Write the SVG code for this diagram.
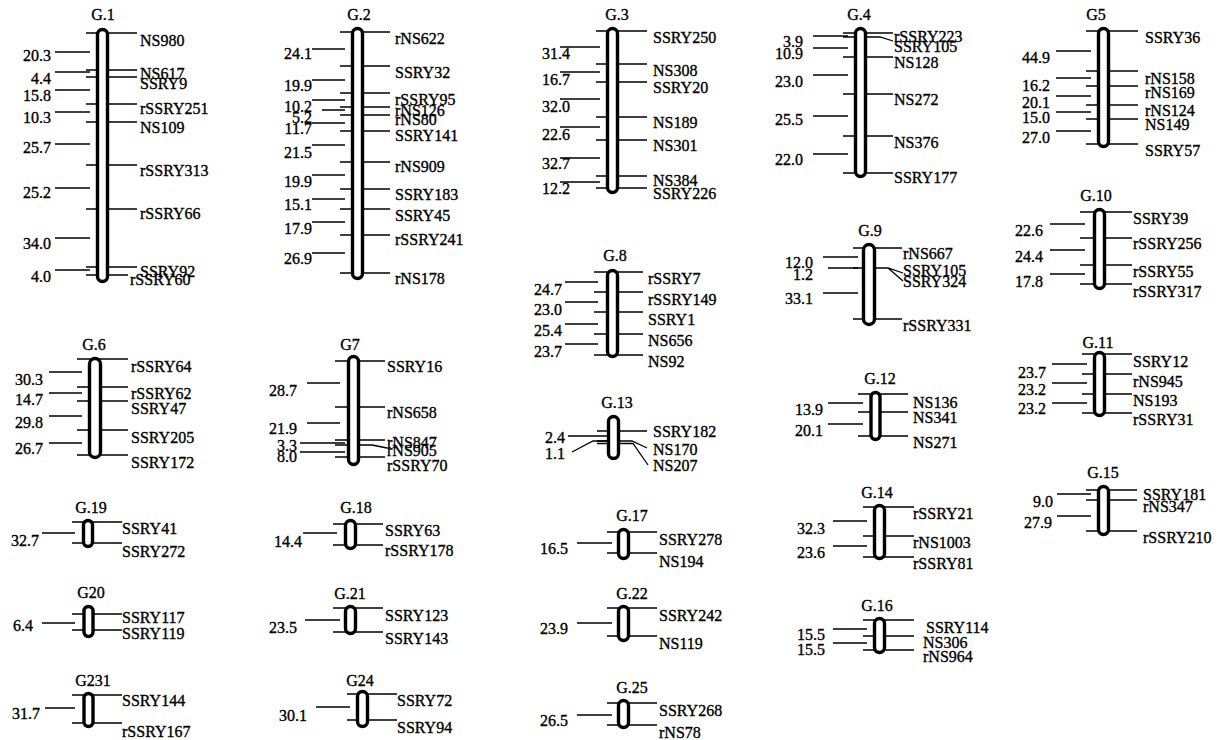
<svg xmlns="http://www.w3.org/2000/svg" width="1228" height="740" viewBox="0 0 1228 740">
<style>
.bg{fill:#fff}
.c{fill:#fff;stroke:#000;stroke-width:3.4}
.m{fill:none;stroke:#000;stroke-width:1.3}
text{font-family:"Liberation Serif","Times New Roman",serif;font-size:16px;fill:#000;stroke:#000;stroke-width:0.35;dominant-baseline:central}
.t{text-anchor:middle}
.d{text-anchor:end}
</style>
<rect class="bg" x="0" y="0" width="1228" height="740"/>

<g id="G1">
<text class="t" x="103" y="14">G.1</text>
<path class="m" d="M86 33H137M86 70H137M86 77H137M86 104H137M86 122H137M86 165H137M86 209H137M86 267H137M86 275H128"/>
<path class="m" d="M55 52H90M55 72H90M55 90H90M55 112H90M55 144H90M55 188H90M55 238H90M55 270H90"/>
<rect class="c" x="97.5" y="29.5" width="10" height="252" rx="5"/>
<text x="140" y="73">NS617</text><text x="140" y="40">NS980</text><text x="140" y="83">SSRY9</text><text x="140" y="108">rSSRY251</text><text x="140" y="127">NS109</text><text x="140" y="170">rSSRY313</text><text x="140" y="213">rSSRY66</text><text x="140" y="271">SSRY92</text><text x="130" y="279">rSSRY60</text>
<text class="d" x="51" y="55">20.3</text><text class="d" x="51" y="78">4.4</text><text class="d" x="51" y="95">15.8</text><text class="d" x="51" y="117">10.3</text><text class="d" x="51" y="147">25.7</text><text class="d" x="51" y="192">25.2</text><text class="d" x="51" y="243">34.0</text><text class="d" x="51" y="276">4.0</text>
</g>

<g id="G2">
<text class="t" x="359" y="14">G.2</text>
<path class="m" d="M340 32H390M340 66H390M340 93H390M340 107H390M340 115H390M340 131H390M340 162H390M340 189H390M340 209H390M340 235H390M340 273H390"/>
<path class="m" d="M312 49H345M312 80H345M312 100H345M322 110H345M312 123H345M312 145H345M312 175H345M312 199H345M312 222H345M312 253H345"/>
<rect class="c" x="352.5" y="28.5" width="10" height="250" rx="5"/>
<text x="395" y="38">rNS622</text><text x="395" y="72">SSRY32</text><text x="395" y="99">rSSRY95</text><text x="395" y="110">rNS126</text><text x="395" y="119">rNS80</text><text x="395" y="135">SSRY141</text><text x="395" y="166">rNS909</text><text x="395" y="194">SSRY183</text><text x="395" y="215">SSRY45</text><text x="395" y="239">rSSRY241</text><text x="395" y="278">rNS178</text>
<text class="d" x="312" y="53">24.1</text><text class="d" x="312" y="85">19.9</text><text class="d" x="312" y="106">10.2</text><text class="d" x="312" y="117">5.2</text><text class="d" x="312" y="128">11.7</text><text class="d" x="312" y="152">21.5</text><text class="d" x="312" y="181">19.9</text><text class="d" x="312" y="204">15.1</text><text class="d" x="312" y="228">17.9</text><text class="d" x="312" y="258">26.9</text>
</g>

<g id="G3">
<text class="t" x="617" y="14">G.3</text>
<path class="m" d="M596 31H647M596 64H647M596 82H647M596 117H647M596 140H647M596 176H647M596 188H647"/>
<path class="m" d="M560 47H600M560 72H600M560 99H600M560 127H600M560 158H600M560 182H600"/>
<rect class="c" x="607.5" y="28.5" width="10" height="164" rx="5"/>
<text x="653" y="37">SSRY250</text><text x="653" y="70">NS308</text><text x="653" y="87">SSRY20</text><text x="653" y="122">NS189</text><text x="653" y="145">NS301</text><text x="653" y="180">NS384</text><text x="653" y="193">SSRY226</text>
<text class="d" x="570" y="53">31.4</text><text class="d" x="570" y="79">16.7</text><text class="d" x="570" y="106">32.0</text><text class="d" x="570" y="134">22.6</text><text class="d" x="570" y="163">32.7</text><text class="d" x="570" y="188">12.2</text>
</g>

<g id="G4">
<text class="t" x="859" y="14">G.4</text>
<path class="m" d="M843 33H893M843 37H880L893 41M843 57H893M843 94H893M843 136H893M843 173H893"/>
<path class="m" d="M813 36H848M813 48H848M813 75H848M813 116H848M813 154H848"/>
<rect class="c" x="855.5" y="28.5" width="10" height="148" rx="5"/>
<text x="894" y="36">rSSRY223</text><text x="894" y="46">SSRY105</text><text x="894" y="62">NS128</text><text x="894" y="99">NS272</text><text x="894" y="142">NS376</text><text x="894" y="177">SSRY177</text>
<text class="d" x="803" y="41">3.9</text><text class="d" x="803" y="53">10.9</text><text class="d" x="803" y="81">23.0</text><text class="d" x="803" y="119">25.5</text><text class="d" x="803" y="159">22.0</text>
</g>

<g id="G5">
<text class="t" x="1096" y="14">G5</text>
<path class="m" d="M1086 31H1138M1086 71H1138M1086 86H1138M1086 105H1138M1086 119H1138M1086 144H1138"/>
<path class="m" d="M1056 51H1091M1056 78H1091M1056 96H1091M1056 112H1091M1056 131H1091"/>
<rect class="c" x="1098.5" y="28.5" width="10" height="118" rx="5"/>
<text x="1145" y="37">SSRY36</text><text x="1145" y="78">rNS158</text><text x="1145" y="92">rNS169</text><text x="1145" y="110">rNS124</text><text x="1145" y="124">NS149</text><text x="1145" y="150">SSRY57</text>
<text class="d" x="1050" y="57">44.9</text><text class="d" x="1050" y="85">16.2</text><text class="d" x="1050" y="102">20.1</text><text class="d" x="1050" y="117">15.0</text><text class="d" x="1050" y="137">27.0</text>
</g>

<g id="G10">
<text class="t" x="1096" y="195">G.10</text>
<path class="m" d="M1080 212H1132M1080 238H1132M1080 265H1132M1080 284H1132"/>
<path class="m" d="M1050 224H1085M1050 250H1085M1050 274H1085"/>
<rect class="c" x="1094.5" y="209.5" width="10" height="79" rx="5"/>
<text x="1133" y="218">SSRY39</text><text x="1133" y="243">rSSRY256</text><text x="1133" y="271">rSSRY55</text><text x="1133" y="291">rSSRY317</text>
<text class="d" x="1043" y="230">22.6</text><text class="d" x="1043" y="256">24.4</text><text class="d" x="1043" y="281">17.8</text>
</g>

<g id="G6">
<text class="t" x="94" y="344">G.6</text>
<path class="m" d="M77 359H128M77 387H128M77 401H128M77 430H128M77 455H128"/>
<path class="m" d="M49 372H82M49 393H82M49 416H82M49 443H82"/>
<rect class="c" x="89.5" y="358.5" width="11" height="99" rx="5.5"/>
<text x="131" y="366">rSSRY64</text><text x="131" y="393">rSSRY62</text><text x="131" y="408">SSRY47</text><text x="131" y="437">SSRY205</text><text x="131" y="462">SSRY172</text>
<text class="d" x="43" y="379">30.3</text><text class="d" x="43" y="399">14.7</text><text class="d" x="43" y="422">29.8</text><text class="d" x="43" y="448">26.7</text>
</g>

<g id="G19">
<text class="t" x="91" y="507">G.19</text>
<path class="m" d="M72 522H122M72 543H122M42 533H75"/>
<rect class="c" x="83.5" y="520.5" width="9" height="26" rx="4.5"/>
<text x="122" y="528">SSRY41</text><text x="122" y="551">SSRY272</text>
<text class="d" x="39" y="540">32.7</text>
</g>

<g id="G20">
<text class="t" x="91" y="592">G20</text>
<path class="m" d="M72 614H122M72 630H122M42 623H75"/>
<rect class="c" x="84" y="606.5" width="9" height="30" rx="4.5"/>
<text x="122" y="617">SSRY117</text><text x="122" y="633">SSRY119</text>
<text class="d" x="33" y="625">6.4</text>
</g>

<g id="G231">
<text class="t" x="93" y="680">G231</text>
<path class="m" d="M72 695H122M72 723H122M45 708H75"/>
<rect class="c" x="84" y="693.5" width="9" height="33" rx="4.5"/>
<text x="122" y="700">SSRY144</text><text x="122" y="731">rSSRY167</text>
<text class="d" x="40" y="713">31.7</text>
</g>

<g id="G7">
<text class="t" x="350" y="344">G7</text>
<path class="m" d="M335 361H385M335 407H385M335 440H385M335 445H372L387 448M335 457H385"/>
<path class="m" d="M307 383H340M307 423H340M300 443H345M300 452H345"/>
<rect class="c" x="348.5" y="356.5" width="10" height="108" rx="5"/>
<text x="387" y="366">SSRY16</text><text x="387" y="412">rNS658</text><text x="387" y="442">rNS847</text><text x="387" y="450">rNS905</text><text x="387" y="465">rSSRY70</text>
<text class="d" x="297" y="390">28.7</text><text class="d" x="297" y="428">21.9</text><text class="d" x="297" y="445">3.3</text><text class="d" x="297" y="456">8.0</text>
</g>

<g id="G18">
<text class="t" x="356" y="507">G.18</text>
<path class="m" d="M333 524H383M333 545H383M303 533H337"/>
<rect class="c" x="345.5" y="520.5" width="10" height="28" rx="5"/>
<text x="385" y="530">SSRY63</text><text x="385" y="550">rSSRY178</text>
<text class="d" x="302" y="541">14.4</text>
</g>

<g id="G21">
<text class="t" x="350" y="593">G.21</text>
<path class="m" d="M333 608H383M333 632H383M305 620H340"/>
<rect class="c" x="345.5" y="606.5" width="10" height="27" rx="5"/>
<text x="385" y="615">SSRY123</text><text x="385" y="638">SSRY143</text>
<text class="d" x="297" y="627">23.5</text>
</g>

<g id="G24">
<text class="t" x="360" y="680">G24</text>
<path class="m" d="M347 694H397M347 720H397M316 707H350"/>
<rect class="c" x="357.5" y="691.5" width="10" height="35" rx="5"/>
<text x="397" y="700">SSRY72</text><text x="397" y="727">SSRY94</text>
<text class="d" x="307" y="715">30.1</text>
</g>

<g id="G8">
<text class="t" x="615" y="255">G.8</text>
<path class="m" d="M594 272H643M594 292H643M594 312H643M594 334H643M594 355H643"/>
<path class="m" d="M565 282H598M565 302H598M565 324H598M565 344H598"/>
<rect class="c" x="607.5" y="270.5" width="10" height="86" rx="5"/>
<text x="648" y="278">rSSRY7</text><text x="648" y="299">rSSRY149</text><text x="648" y="319">SSRY1</text><text x="648" y="340">NS656</text><text x="648" y="361">NS92</text>
<text class="d" x="562" y="289">24.7</text><text class="d" x="562" y="309">23.0</text><text class="d" x="562" y="330">25.4</text><text class="d" x="562" y="351">23.7</text>
</g>

<g id="G13">
<text class="t" x="617" y="402">G.13</text>
<path class="m" d="M597 431H647M597 441H632L647 448M597 443.5H633L648 465"/>
<path class="m" d="M568 436H607M572 452L593 441H607"/>
<rect class="c" x="608.5" y="416.5" width="10" height="42" rx="5"/>
<text x="653" y="431">SSRY182</text><text x="653" y="449">NS170</text><text x="653" y="465">NS207</text>
<text class="d" x="565" y="437">2.4</text><text class="d" x="565" y="453">1.1</text>
</g>

<g id="G17">
<text class="t" x="632" y="515">G.17</text>
<path class="m" d="M607 532H657M607 553H657M577 543H612"/>
<rect class="c" x="618.5" y="529.5" width="10" height="29" rx="5"/>
<text x="659" y="539">SSRY278</text><text x="659" y="561">NS194</text>
<text class="d" x="568" y="548">16.5</text>
</g>

<g id="G22">
<text class="t" x="632" y="593">G.22</text>
<path class="m" d="M607 608H657M607 636H657M577 623H612"/>
<rect class="c" x="618.5" y="606.5" width="10" height="34" rx="5"/>
<text x="659" y="615">SSRY242</text><text x="659" y="643">NS119</text>
<text class="d" x="568" y="628">23.9</text>
</g>

<g id="G25">
<text class="t" x="632" y="687">G.25</text>
<path class="m" d="M607 703H657M607 725H657M577 715H612"/>
<rect class="c" x="618.5" y="700.5" width="10" height="27" rx="5"/>
<text x="659" y="710">SSRY268</text><text x="659" y="732">rNS78</text>
<text class="d" x="568" y="720">26.5</text>
</g>

<g id="G9">
<text class="t" x="870" y="230">G.9</text>
<path class="m" d="M853 248H902M853 268H888L903 273M888 268L903 281M853 319H902"/>
<path class="m" d="M823 257H858M828 268H858M823 293H858"/>
<rect class="c" x="863.5" y="244.5" width="11" height="80" rx="5.5"/>
<text x="903" y="253">rNS667</text><text x="903" y="270">SSRY105</text><text x="903" y="281">SSRY324</text><text x="903" y="325">rSSRY331</text>
<text class="d" x="813" y="262">12.0</text><text class="d" x="813" y="274">1.2</text><text class="d" x="813" y="298">33.1</text>
</g>

<g id="G12">
<text class="t" x="880" y="378">G.12</text>
<path class="m" d="M858 394H908M858 412H908M858 436H908"/>
<path class="m" d="M828 403H863M828 424H863"/>
<rect class="c" x="871" y="392.5" width="9" height="47" rx="4.5"/>
<text x="913" y="402">NS136</text><text x="913" y="417">NS341</text><text x="913" y="442">NS271</text>
<text class="d" x="823" y="409">13.9</text><text class="d" x="823" y="430">20.1</text>
</g>

<g id="G14">
<text class="t" x="877" y="492">G.14</text>
<path class="m" d="M863 507H914M863 536H914M863 557H914"/>
<path class="m" d="M833 521H867M833 546H867"/>
<rect class="c" x="874.5" y="505.5" width="10" height="53" rx="5"/>
<text x="913" y="513">rSSRY21</text><text x="913" y="542">rNS1003</text><text x="913" y="563">rSSRY81</text>
<text class="d" x="825" y="528">32.3</text><text class="d" x="825" y="552">23.6</text>
</g>

<g id="G16">
<text class="t" x="877" y="605">G.16</text>
<path class="m" d="M863 620H914M863 636H914M863 650H914"/>
<path class="m" d="M833 629H867M833 643H867"/>
<rect class="c" x="874.5" y="618.5" width="10" height="34" rx="5"/>
<text x="926" y="627">SSRY114</text><text x="923" y="642">NS306</text><text x="923" y="656">rNS964</text>
<text class="d" x="825" y="634">15.5</text><text class="d" x="825" y="649">15.5</text>
</g>

<g id="G11">
<text class="t" x="1098" y="342">G.11</text>
<path class="m" d="M1082 354H1132M1082 374H1132M1082 394H1132M1082 413H1132"/>
<path class="m" d="M1052 364H1087M1052 383H1087M1052 403H1087"/>
<rect class="c" x="1094.5" y="352.5" width="10" height="63" rx="5"/>
<text x="1133" y="361">SSRY12</text><text x="1133" y="381">rNS945</text><text x="1133" y="400">NS193</text><text x="1133" y="419">rSSRY31</text>
<text class="d" x="1046" y="372">23.7</text><text class="d" x="1046" y="389">23.2</text><text class="d" x="1046" y="408">23.2</text>
</g>

<g id="G15">
<text class="t" x="1103" y="472">G.15</text>
<path class="m" d="M1086 490H1137M1086 500H1137M1086 531H1137"/>
<path class="m" d="M1057 494H1091M1057 516H1091"/>
<rect class="c" x="1098.5" y="486.5" width="10" height="48" rx="5"/>
<text x="1143" y="494">SSRY181</text><text x="1143" y="506">rNS347</text><text x="1143" y="537">rSSRY210</text>
<text class="d" x="1053" y="501">9.0</text><text class="d" x="1052" y="522">27.9</text>
</g>
</svg>
